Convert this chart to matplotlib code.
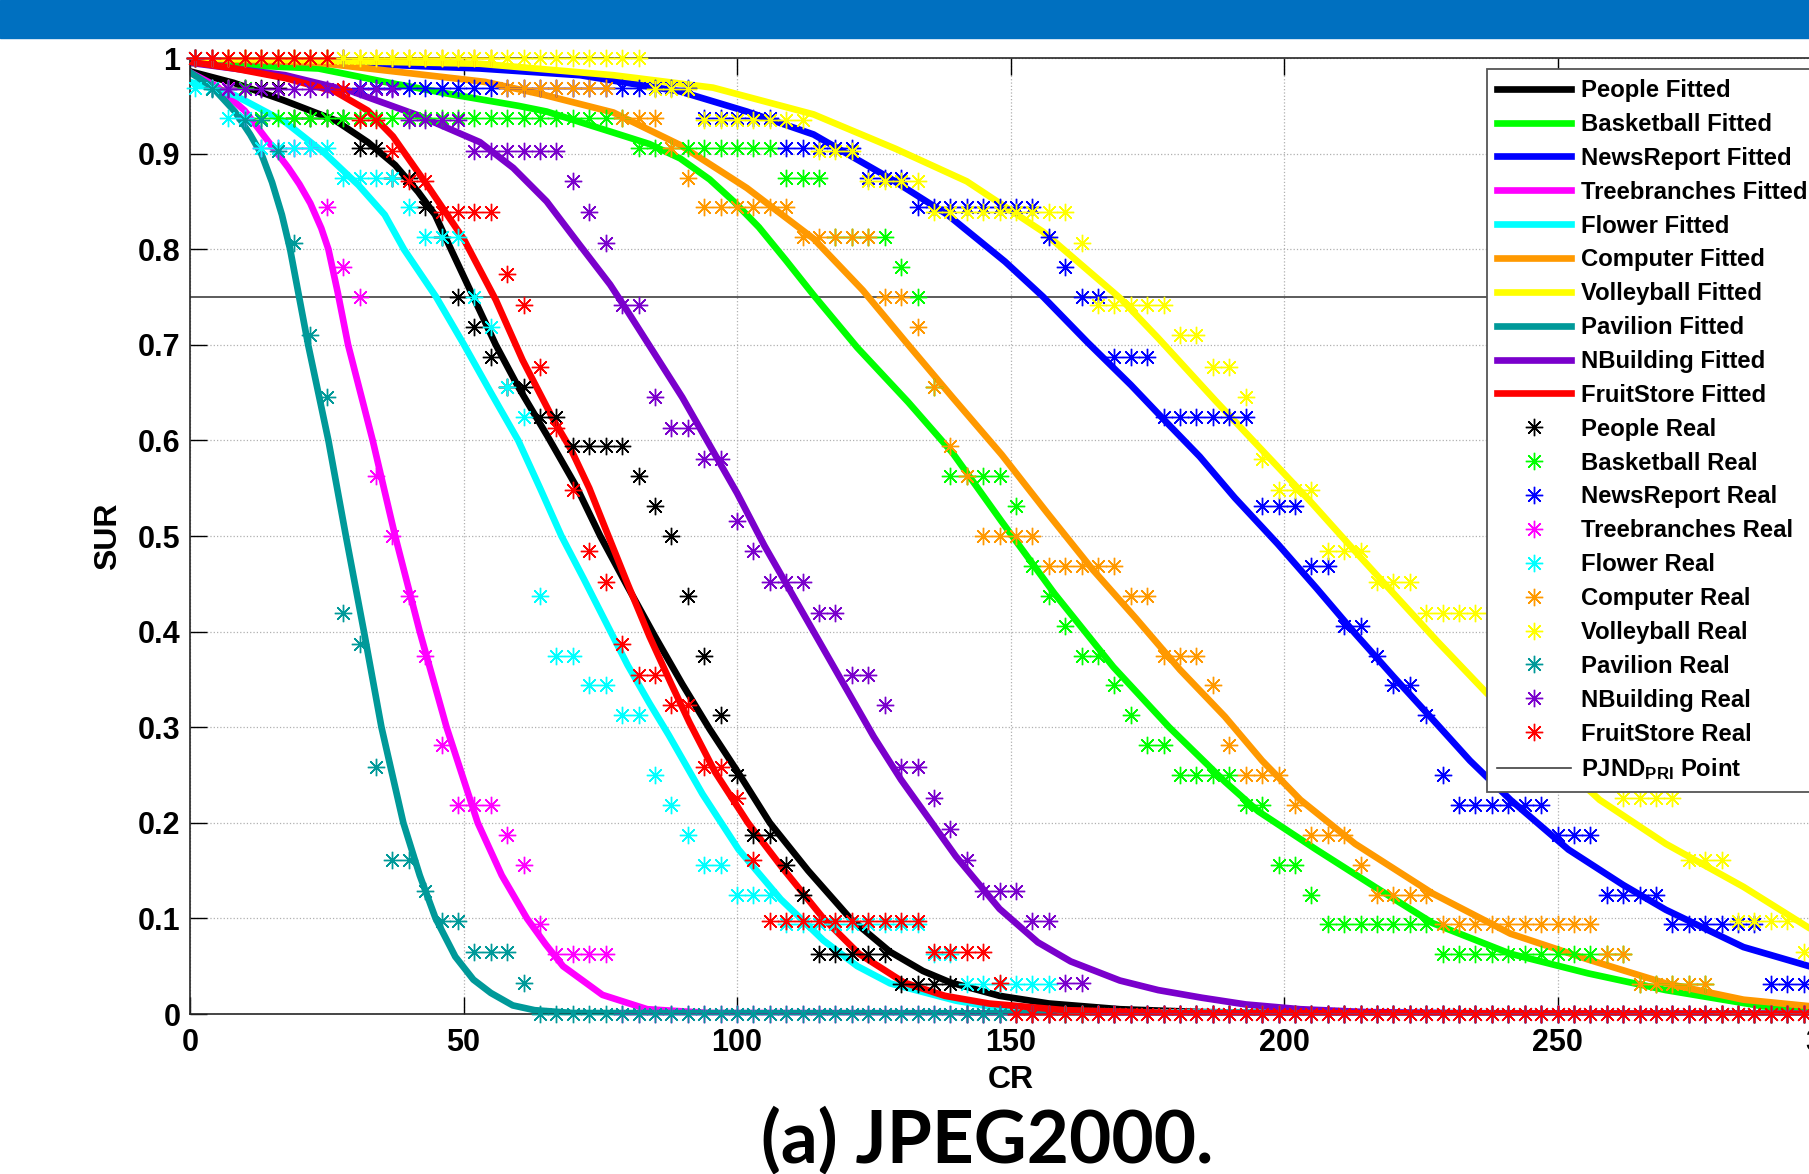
"""
SUR versus CR for JPEG2000: fitted curves and measured points of ten sequences.
"""

import matplotlib

matplotlib.use("Agg")
import matplotlib.pyplot as plt
import numpy as np
from matplotlib.patches import Rectangle

plt.rcParams["font.family"] = ["Liberation Sans", "DejaVu Sans"]
plt.rcParams["font.weight"] = "bold"
plt.rcParams["mathtext.fontset"] = "custom"
plt.rcParams["mathtext.rm"] = "Liberation Sans:bold"
plt.rcParams["mathtext.it"] = "Liberation Sans:bold"
plt.rcParams["mathtext.bf"] = "Liberation Sans:bold"

NAMES = ["People", "Basketball", "NewsReport", "Treebranches", "Flower",
         "Computer", "Volleyball", "Pavilion", "NBuilding", "FruitStore"]
COLORS = ["#000000", "#00ff00", "#0000ff", "#ff00ff", "#00ffff",
          "#ff9900", "#ffff00", "#009999", "#7a00cc", "#ff0000"]

# compression ratios of the measured points
CR_REAL = [1, 4, 7, 10, 13, 16, 19, 22, 25, 28, 31, 34, 37, 40, 43, 46, 49,
           52, 55, 58, 61, 64, 67, 70, 73, 76, 79, 82, 85, 88, 91, 94, 97,
           100, 103, 106, 109, 112, 115, 118, 121, 124, 127, 130, 133, 136,
           139, 142, 145, 148, 151, 154, 157, 160, 163, 166, 169, 172, 175,
           178, 181, 184, 187, 190, 193, 196, 199, 202, 205, 208, 211, 214,
           217, 220, 223, 226, 229, 232, 235, 238, 241, 244, 247, 250, 253,
           256, 259, 262, 265, 268, 271, 274, 277, 280, 283, 286, 289, 292,
           295, 298]

# measured SUR as (value, number of consecutive CR_REAL points)
people_real = [(1.0, 1), (0.969, 5), (0.9375, 4), (0.906, 2), (0.875, 2),
               (0.844, 1), (0.8125, 1), (0.75, 1), (0.719, 1), (0.6875, 1),
               (0.656, 2), (0.625, 2), (0.594, 4), (0.5625, 1), (0.531, 1),
               (0.5, 1), (0.4375, 1), (0.375, 1), (0.3125, 1), (0.25, 1),
               (0.1875, 2), (0.156, 1), (0.125, 1), (0.0625, 5), (0.031, 4),
               (0.0, 53)]
basketball_real = [(1.0, 1), (0.969, 3), (0.9375, 23), (0.906, 9),
                   (0.875, 3), (0.8125, 4), (0.781, 1), (0.75, 1),
                   (0.656, 1), (0.5625, 4), (0.531, 1), (0.469, 1),
                   (0.4375, 1), (0.406, 1), (0.375, 2), (0.344, 1),
                   (0.3125, 1), (0.281, 2), (0.25, 4), (0.219, 2),
                   (0.156, 2), (0.125, 1), (0.094, 7), (0.0625, 12),
                   (0.031, 5), (0.0, 7)]
newsreport_real = [(1.0, 10), (0.969, 21), (0.9375, 5), (0.906, 5),
                   (0.875, 3), (0.844, 8), (0.8125, 1), (0.781, 1),
                   (0.75, 2), (0.6875, 3), (0.625, 6), (0.531, 3),
                   (0.469, 2), (0.406, 2), (0.375, 1), (0.344, 2),
                   (0.3125, 1), (0.25, 1), (0.219, 6), (0.1875, 3),
                   (0.125, 4), (0.094, 6), (0.031, 4)]
treebranches_real = [(1.0, 1), (0.969, 2), (0.9375, 1), (0.906, 4),
                     (0.844, 1), (0.781, 1), (0.75, 1), (0.5625, 1),
                     (0.5, 1), (0.4375, 1), (0.375, 1), (0.281, 1),
                     (0.219, 3), (0.1875, 1), (0.156, 1), (0.094, 1),
                     (0.0625, 4), (0.0, 74)]
flower_real = [(0.969, 2), (0.9375, 2), (0.906, 5), (0.875, 4), (0.844, 1),
               (0.8125, 3), (0.75, 1), (0.719, 1), (0.656, 1), (0.625, 1),
               (0.4375, 1), (0.375, 2), (0.344, 2), (0.3125, 2), (0.25, 1),
               (0.219, 1), (0.1875, 1), (0.156, 2), (0.125, 3), (0.094, 9),
               (0.0625, 2), (0.031, 6), (0.0, 47)]
computer_real = [(1.0, 19), (0.969, 7), (0.9375, 3), (0.906, 1), (0.875, 1),
                 (0.844, 6), (0.8125, 5), (0.75, 2), (0.719, 1), (0.656, 1),
                 (0.594, 1), (0.5625, 1), (0.5, 4), (0.469, 5), (0.4375, 2),
                 (0.375, 3), (0.344, 1), (0.281, 1), (0.25, 3), (0.219, 1),
                 (0.1875, 3), (0.156, 1), (0.125, 4), (0.094, 10),
                 (0.0625, 2), (0.031, 5), (0.0, 7)]
volleyball_real = [(1.0, 28), (0.968, 3), (0.935, 7), (0.903, 3),
                   (0.871, 4), (0.839, 9), (0.806, 1), (0.742, 5),
                   (0.710, 2), (0.677, 2), (0.645, 1), (0.581, 1),
                   (0.548, 3), (0.484, 3), (0.452, 3), (0.419, 5),
                   (0.387, 2), (0.355, 2), (0.323, 1), (0.290, 1),
                   (0.258, 1), (0.226, 4), (0.161, 3), (0.097, 4),
                   (0.065, 2)]
pavilion_real = [(1.0, 1), (0.968, 2), (0.935, 2), (0.903, 1), (0.806, 1),
                 (0.710, 1), (0.645, 1), (0.419, 1), (0.387, 1), (0.258, 1),
                 (0.161, 2), (0.129, 1), (0.097, 2), (0.065, 3), (0.032, 1),
                 (0.0, 79)]
nbuilding_real = [(1.0, 2), (0.968, 11), (0.935, 4), (0.903, 6), (0.871, 1),
                  (0.839, 1), (0.806, 1), (0.742, 2), (0.645, 1),
                  (0.613, 2), (0.581, 2), (0.516, 1), (0.484, 1),
                  (0.452, 3), (0.419, 2), (0.355, 2), (0.323, 1),
                  (0.258, 2), (0.226, 1), (0.194, 1), (0.161, 1),
                  (0.129, 3), (0.097, 2), (0.032, 2), (0.0, 45)]
fruitstore_real = [(1.0, 9), (0.968, 1), (0.935, 2), (0.903, 1), (0.871, 2),
                   (0.839, 4), (0.774, 1), (0.742, 1), (0.677, 1),
                   (0.613, 1), (0.548, 1), (0.484, 1), (0.452, 1),
                   (0.387, 1), (0.355, 2), (0.323, 2), (0.258, 2),
                   (0.226, 1), (0.161, 1), (0.097, 10), (0.065, 4),
                   (0.032, 1), (0.0, 50)]

people_fit_cr = [0, 8, 17, 26.5, 32.5, 37.5, 41.7, 44.8, 47.7, 51.8, 55.9,
                 60, 65.5, 70.6, 75, 80, 85, 90, 95, 100.5, 106, 113, 120.7,
                 128, 134, 139, 148, 157, 170, 185, 210, 300]
people_fit_sur = [0.986, 0.974, 0.956, 0.935, 0.912, 0.888, 0.86, 0.836,
                  0.8, 0.75, 0.7, 0.656, 0.603, 0.552, 0.5, 0.447, 0.395,
                  0.345, 0.298, 0.25, 0.2, 0.15, 0.1, 0.065, 0.045, 0.033,
                  0.019, 0.011, 0.005, 0.002, 0.0005, 0]
basketball_fit_cr = [0, 23.5, 35.6, 47.8, 60, 65.2, 77.4, 84, 89.6, 95, 99.4,
                     104, 109, 114, 122, 131.3, 139.4, 148.4, 158, 168.8,
                     179, 189.2, 195.3, 205.9, 216.6, 227.2, 241.4, 255.6,
                     269.8, 287.6, 300]
basketball_fit_sur = [0.995, 0.989, 0.975, 0.962, 0.95, 0.944, 0.922, 0.91,
                      0.895, 0.873, 0.85, 0.823, 0.788, 0.752, 0.697, 0.64,
                      0.587, 0.515, 0.44, 0.363, 0.3, 0.243, 0.212, 0.172,
                      0.133, 0.095, 0.063, 0.0425, 0.025, 0.008, 0.004]
newsreport_fit_cr = [0, 35.6, 53, 71.3, 89.6, 101.8, 114, 128, 138.5, 149,
                     156, 164, 172, 178, 184.6, 191, 198.8, 206, 213, 220,
                     227.2, 234, 241.4, 252, 262, 269.8, 284, 296, 300]
newsreport_fit_sur = [1.0, 0.993, 0.989, 0.982, 0.965, 0.944, 0.92, 0.874,
                      0.836, 0.787, 0.75, 0.703, 0.658, 0.622, 0.583, 0.54,
                      0.492, 0.445, 0.398, 0.353, 0.308, 0.265, 0.224, 0.172,
                      0.135, 0.109, 0.07, 0.05, 0.044]
treebranches_fit_cr = [0, 5, 10, 14, 18, 20, 22, 24, 25.3, 27, 28.9, 33.4,
                       37.5, 42, 46.9, 52.6, 57, 61.6, 65, 68.2, 75.4, 83.6,
                       95, 300]
treebranches_fit_sur = [0.985, 0.97, 0.945, 0.915, 0.885, 0.868, 0.848,
                        0.822, 0.8, 0.755, 0.7, 0.6, 0.5, 0.4, 0.3, 0.2,
                        0.145, 0.1, 0.073, 0.05, 0.02, 0.005, 0.001, 0]
flower_fit_cr = [0, 8.2, 17.4, 24.7, 30.8, 35.6, 39.1, 45, 50.1, 55, 60, 64,
                 67.9, 72, 76, 80, 84, 87.5, 93.7, 100.3, 108, 115.8, 122,
                 128, 140, 148, 160, 300]
flower_fit_sur = [0.975, 0.961, 0.933, 0.9, 0.867, 0.836, 0.8, 0.75, 0.7,
                  0.65, 0.6, 0.55, 0.5, 0.455, 0.41, 0.365, 0.325, 0.292,
                  0.23, 0.172, 0.12, 0.077, 0.05, 0.032, 0.014, 0.006,
                  0.002, 0]
computer_fit_cr = [0, 23.5, 54, 65, 77.4, 89.6, 101.8, 114, 123, 131, 139.4,
                   148.4, 156.6, 165, 172.9, 181, 189.2, 196, 203, 213, 227.2,
                   241.4, 255.6, 269.8, 284, 300]
computer_fit_sur = [1.0, 0.995, 0.975, 0.961, 0.943, 0.909, 0.864, 0.811,
                    0.757, 0.702, 0.645, 0.585, 0.525, 0.465, 0.414, 0.36,
                    0.311, 0.265, 0.224, 0.178, 0.126, 0.084, 0.057, 0.032,
                    0.015, 0.006]
volleyball_fit_cr = [0, 53, 77.4, 95.6, 114, 129, 142, 156, 170, 177, 187.4,
                     197.6, 205, 213, 220, 228, 237, 247, 257.7, 269.8, 284,
                     296, 300]
volleyball_fit_sur = [1.0, 0.994, 0.982, 0.969, 0.941, 0.905, 0.871, 0.818,
                      0.749, 0.707, 0.642, 0.58, 0.535, 0.484, 0.44, 0.39,
                      0.336, 0.28, 0.224, 0.178, 0.133, 0.09, 0.08]
pavilion_fit_cr = [0, 4, 8.2, 11, 13.1, 15, 16.8, 18.3, 21.6, 25.3, 28.5,
                   31.8, 35, 39, 42, 44.9, 48.5, 51.8, 55, 59, 63, 70, 300]
pavilion_fit_sur = [0.985, 0.97, 0.944, 0.92, 0.899, 0.87, 0.836, 0.8, 0.7,
                    0.6, 0.5, 0.4, 0.3, 0.2, 0.145, 0.1, 0.06, 0.036, 0.022,
                    0.009, 0.004, 0.001, 0]
nbuilding_fit_cr = [0, 17.4, 29.6, 41.7, 53, 59.1, 65.2, 71.3, 76.8, 80, 85,
                    90, 95, 100, 105, 110, 115, 120, 125, 130, 135, 140, 148,
                    155, 161, 170, 177, 185, 193, 203, 215, 240, 300]
nbuilding_fit_sur = [0.995, 0.982, 0.965, 0.94, 0.912, 0.885, 0.85, 0.804,
                     0.763, 0.735, 0.69, 0.645, 0.595, 0.545, 0.49, 0.44,
                     0.39, 0.34, 0.29, 0.245, 0.205, 0.165, 0.11, 0.075,
                     0.055, 0.035, 0.025, 0.017, 0.01, 0.005, 0.002, 0.0003,
                     0]
fruitstore_fit_cr = [0, 8.2, 17.4, 26.5, 32.5, 37.1, 43.6, 50.1, 55.9, 60.8,
                     66.5, 69.7, 73, 76, 80, 84, 88, 91.3, 96, 102, 108,
                     115.8, 122.3, 130.5, 138, 146, 160, 180, 300]
fruitstore_fit_sur = [0.996, 0.989, 0.979, 0.965, 0.945, 0.918, 0.865, 0.81,
                      0.747, 0.684, 0.621, 0.59, 0.55, 0.507, 0.45, 0.395,
                      0.345, 0.305, 0.253, 0.2, 0.155, 0.1, 0.063, 0.033,
                      0.019, 0.011, 0.004, 0.001, 0]

PJND_SUR = 0.75

X_TICKS = [0, 50, 100, 150, 200, 250, 300]
Y_TICKS = [0, 0.1, 0.2, 0.3, 0.4, 0.5, 0.6, 0.7, 0.8, 0.9, 1]
Y_LABELS = ["0", "0.1", "0.2", "0.3", "0.4", "0.5", "0.6", "0.7", "0.8",
            "0.9", "1"]


def expand(runs):
    return np.repeat([v for v, n in runs], [n for v, n in runs])


def main() -> None:
    fits = [
        (people_fit_cr, people_fit_sur),
        (basketball_fit_cr, basketball_fit_sur),
        (newsreport_fit_cr, newsreport_fit_sur),
        (treebranches_fit_cr, treebranches_fit_sur),
        (flower_fit_cr, flower_fit_sur),
        (computer_fit_cr, computer_fit_sur),
        (volleyball_fit_cr, volleyball_fit_sur),
        (pavilion_fit_cr, pavilion_fit_sur),
        (nbuilding_fit_cr, nbuilding_fit_sur),
        (fruitstore_fit_cr, fruitstore_fit_sur),
    ]
    reals = [people_real, basketball_real, newsreport_real, treebranches_real,
             flower_real, computer_real, volleyball_real, pavilion_real,
             nbuilding_real, fruitstore_real]

    W, H = 1809, 1174
    fig = plt.figure(figsize=(W / 100, H / 100), dpi=100)
    fig.add_artist(Rectangle((0, 1 - 38 / H), 1, 38 / H,
                             transform=fig.transFigure, color="#0070c0",
                             zorder=0))

    ax = fig.add_axes([190 / W, 160 / H, 1641 / W, 956 / H])
    ax.set_xlim(0, 300)
    ax.set_ylim(0, 1)

    ast = (8, 2, 0)
    handles = []
    for name, color, (cr, sur) in zip(NAMES, COLORS, fits):
        ln, = ax.plot(cr, sur, color=color, lw=4.8, zorder=2,
                      solid_joinstyle="round", label=f"{name} Fitted")
        handles.append(ln)
    for name, color, runs in zip(NAMES, COLORS, reals):
        ln, = ax.plot(CR_REAL, expand(runs), ls="none", marker=ast,
                      markersize=12.5, markeredgewidth=1.0, color=color,
                      zorder=3, clip_on=False, label=f"{name} Real")
        handles.append(ln)
    pj = ax.axhline(PJND_SUR, color="#404040", lw=1.2, zorder=1.5,
                    label=r"PJND$_{\mathbf{PRI}}$ Point")
    handles.append(pj)

    ax.set_xticks(X_TICKS)
    ax.set_yticks(Y_TICKS)
    ax.set_yticklabels(Y_LABELS)
    ax.tick_params(direction="in", length=12, width=1.0, top=True,
                   right=True, labelsize=22, pad=7, colors="black")
    ax.tick_params(axis="x", pad=10)
    for lab in ax.get_xticklabels() + ax.get_yticklabels():
        lab.set_fontweight("bold")
    ax.grid(True, ls=":", color="#b0b0b0", lw=0.9, zorder=0)
    ax.set_axisbelow(True)
    for sp in ax.spines.values():
        sp.set_color("#262626")
        sp.set_linewidth(1.2)

    ax.set_xlabel("CR", fontsize=23, fontweight="bold")
    ax.set_ylabel("SUR", fontsize=23, fontweight="bold")
    ax.xaxis.set_label_coords(0.5, -0.053)
    ax.yaxis.set_label_coords(-0.041, 0.5)

    leg = ax.legend(handles=handles, loc="upper left",
                    bbox_to_anchor=(1487 / W, 1 - 69 / H),
                    bbox_transform=fig.transFigure, borderaxespad=0,
                    prop={"weight": "bold", "size": 17.2},
                    handlelength=3.1, handletextpad=0.4, labelspacing=0.455,
                    borderpad=0.42, fancybox=False, framealpha=1,
                    edgecolor="#555555")
    leg.get_frame().set_linewidth(1.3)
    leg.set_zorder(10)

    fig.text(987 / W, 1 - 1141 / H, "(a) JPEG2000.", ha="center",
             va="center", fontsize=52.5, fontweight="bold",
             family=["Lato", "DejaVu Sans"])

    fig.savefig("out.png", dpi=100)
    plt.close(fig)


if __name__ == "__main__":
    main()
